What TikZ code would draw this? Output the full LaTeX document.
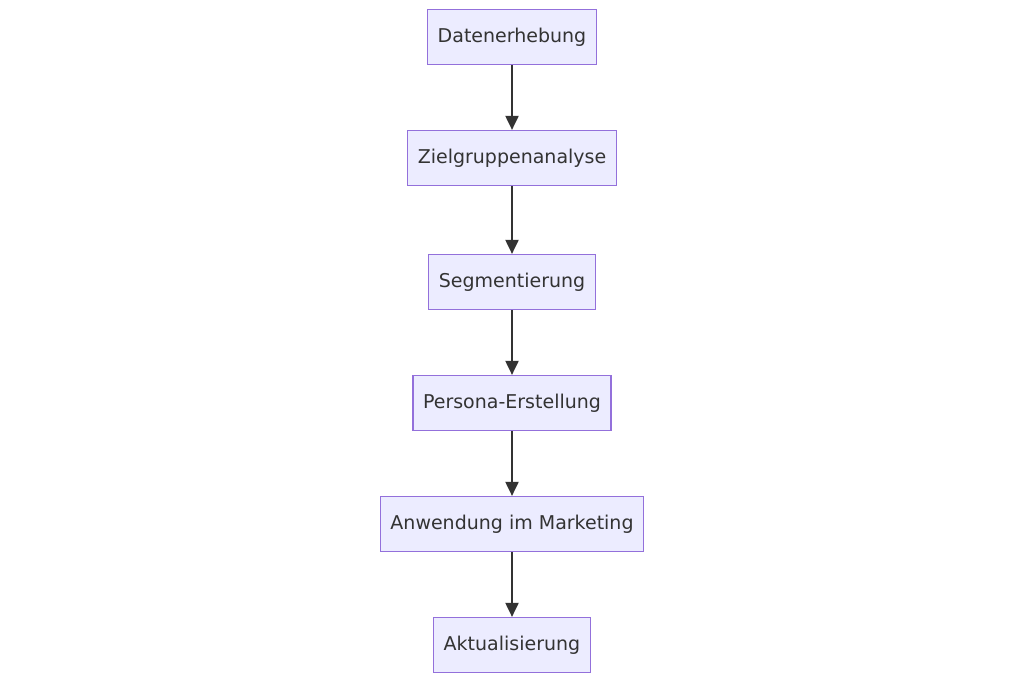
\documentclass[tikz,border=0pt]{standalone}
\usepackage{fontspec}
\setmainfont{DejaVu Sans}
\usetikzlibrary{positioning,arrows.meta}
\definecolor{boxfill}{HTML}{ECECFF}
\definecolor{boxline}{HTML}{9370DB}
\definecolor{arrowcol}{HTML}{333333}
\begin{document}
\begin{tikzpicture}[x=1pt,y=-1pt,
	stage/.style={rectangle,draw=boxline,fill=boxfill,line width=1.2pt,minimum height=55pt,inner xsep=10pt,font=\fontsize{19pt}{22pt}\selectfont,text=arrowcol},
	flow/.style={-{Triangle[length=14pt,width=13pt]},draw=arrowcol,line width=2pt}]
	\useasboundingbox (0,0) rectangle (1024,684);
	\node[stage]	(daten)	at	(512,37)	{Datenerhebung};
	\node[stage]	(ziel)	at	(512,158)	{Zielgruppenanalyse};
	\node[stage]	(segm)	at	(512,282)	{Segmentierung};
	\node[stage]	(pers)	at	(512,403)	{Persona-Erstellung};
	\node[stage]	(anw)	at	(512,524)	{Anwendung im Marketing};
	\node[stage]	(akt)	at	(512,645)	{Aktualisierung};
	
	\draw[flow]	(daten)	--	(ziel);
	\draw[flow]	(ziel)	--	(segm);
	\draw[flow]	(segm)	--	(pers);
	\draw[flow]	(pers)	--	(anw);
	\draw[flow]	(anw)	--	(akt);
\end{tikzpicture}
\end{document}
